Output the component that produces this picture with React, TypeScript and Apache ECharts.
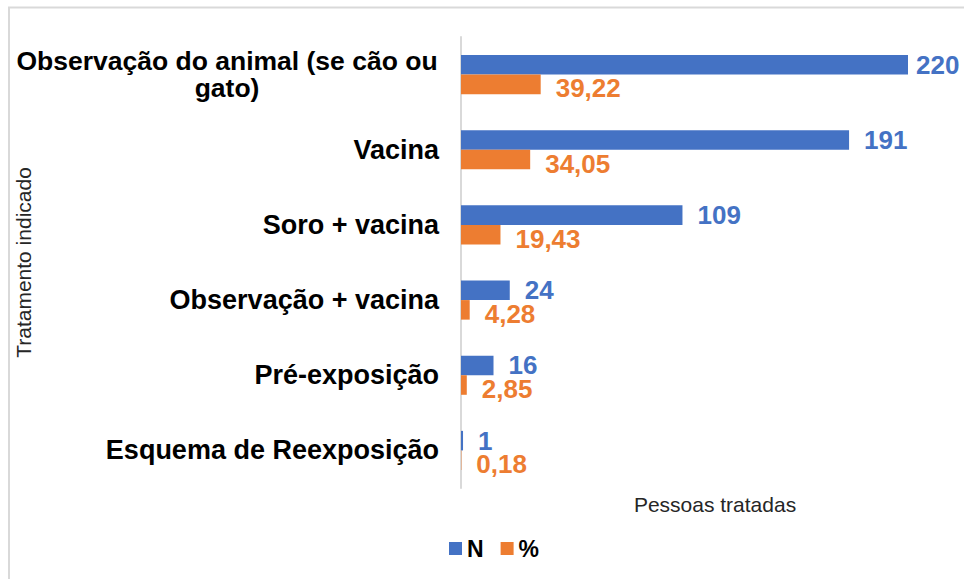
import React, { useEffect, useRef } from "react";
import * as echarts from "echarts";

const categories = [
  "Observação do animal (se cão ou gato)",
  "Vacina",
  "Soro + vacina",
  "Observação + vacina",
  "Pré-exposição",
  "Esquema de Reexposição",
];
const nValues = [220, 191, 109, 24, 16, 1];
const pctValues = [39.22, 34.05, 19.43, 4.28, 2.85, 0.18];
const seriesNames = ["N", "%"];
const xAxisTitle = "Pessoas tratadas";
const yAxisTitle = "Tratamento indicado";

const FONT = "'Liberation Sans', Arial, sans-serif";
const BLUE = "#4472C4";
const ORANGE = "#ED7D31";

const fmtPct = (v: number) => v.toFixed(2).replace(".", ",");

export default function App() {
  const ref = useRef<HTMLDivElement>(null);
  useEffect(() => {
    if (!ref.current) return;
    const chart = echarts.init(ref.current, null, { renderer: "svg" });
    const maxN = Math.max(...nValues);
    chart.setOption({
      animation: false,
      backgroundColor: "#ffffff",
      textStyle: { fontFamily: FONT },
      grid: {
        left: 461,
        right: 56,
        top: 37,
        bottom: 91,
        containLabel: false,
        outerBoundsMode: "none",
      },
      legend: {
        data: seriesNames,
        left: 444,
        top: 532,
        icon: "rect",
        itemWidth: 13,
        itemHeight: 13,
        itemGap: 17,
        textStyle: { fontFamily: FONT, fontSize: 23, fontWeight: "bold", color: "#000" },
      },
      xAxis: {
        type: "value",
        min: 0,
        max: maxN,
        axisLine: { show: false },
        axisTick: { show: false },
        axisLabel: { show: false },
        splitLine: { show: false },
        name: xAxisTitle,
        nameLocation: "middle",
        nameGap: 6,
        nameMoveOverlap: false,
        nameTextStyle: {
          fontFamily: FONT,
          fontSize: 21,
          color: "#262626",
          padding: [0, 0, 0, 61],
          verticalAlign: "top",
        },
      },
      yAxis: {
        type: "category",
        data: categories,
        inverse: true,
        axisLine: { show: true, lineStyle: { color: "#d9d9d9", width: 2 } },
        axisTick: { show: false },
        axisLabel: {
          margin: 22,
          fontFamily: FONT,
          fontSize: 27,
          fontWeight: "bold",
          color: "#000",
          formatter: (v: string, i: number) => {
            if (i === 0) {
              const cut = v.lastIndexOf(" ", v.indexOf("gato"));
              return "{c|" + v.slice(0, cut) + "}\n{c|" + v.slice(cut + 1) + "}";
            }
            return v;
          },
          rich: {
            c: {
              fontFamily: FONT,
              fontSize: 26.5,
              fontWeight: "bold",
              color: "#000",
              width: 424,
              align: "center",
              lineHeight: 27,
            },
          },
        },
        name: yAxisTitle,
        nameLocation: "middle",
        nameRotate: 90,
        nameGap: 427,
        nameMoveOverlap: false,
        nameTextStyle: { fontFamily: FONT, fontSize: 21, color: "#262626" },
      },
      series: [
        {
          name: seriesNames[0],
          type: "bar",
          data: nValues.map((v) =>
            v === maxN ? { value: v, label: { distance: 8 } } : v
          ),
          itemStyle: { color: BLUE },
          barGap: "0%",
          barCategoryGap: "48%",
          label: {
            show: true,
            position: "right",
            distance: 15,
            offset: [0, 0],
            fontFamily: FONT,
            fontSize: 26,
            lineHeight: 19,
            fontWeight: "bold",
            color: BLUE,
          },
        },
        {
          name: seriesNames[1],
          type: "bar",
          data: pctValues,
          itemStyle: { color: ORANGE },
          barGap: "0%",
          barCategoryGap: "48%",
          label: {
            show: true,
            position: "right",
            distance: 15,
            offset: [0, 4],
            fontFamily: FONT,
            fontSize: 26,
            lineHeight: 19,
            fontWeight: "bold",
            color: ORANGE,
            formatter: (p: any) => fmtPct(p.value),
          },
        },
      ],
      graphic: [
        {
          type: "polyline",
          shape: { points: [[9, 600], [9, 7.5], [980, 7.5]] },
          style: { stroke: "#d9d9d9", lineWidth: 2, fill: "none" },
          silent: true,
        },
      ],
    });
    return () => chart.dispose();
  }, []);
  return (
    <div
      ref={ref}
      style={{ position: "absolute", left: 0, top: 0, width: 964, height: 579 }}
    />
  );
}
